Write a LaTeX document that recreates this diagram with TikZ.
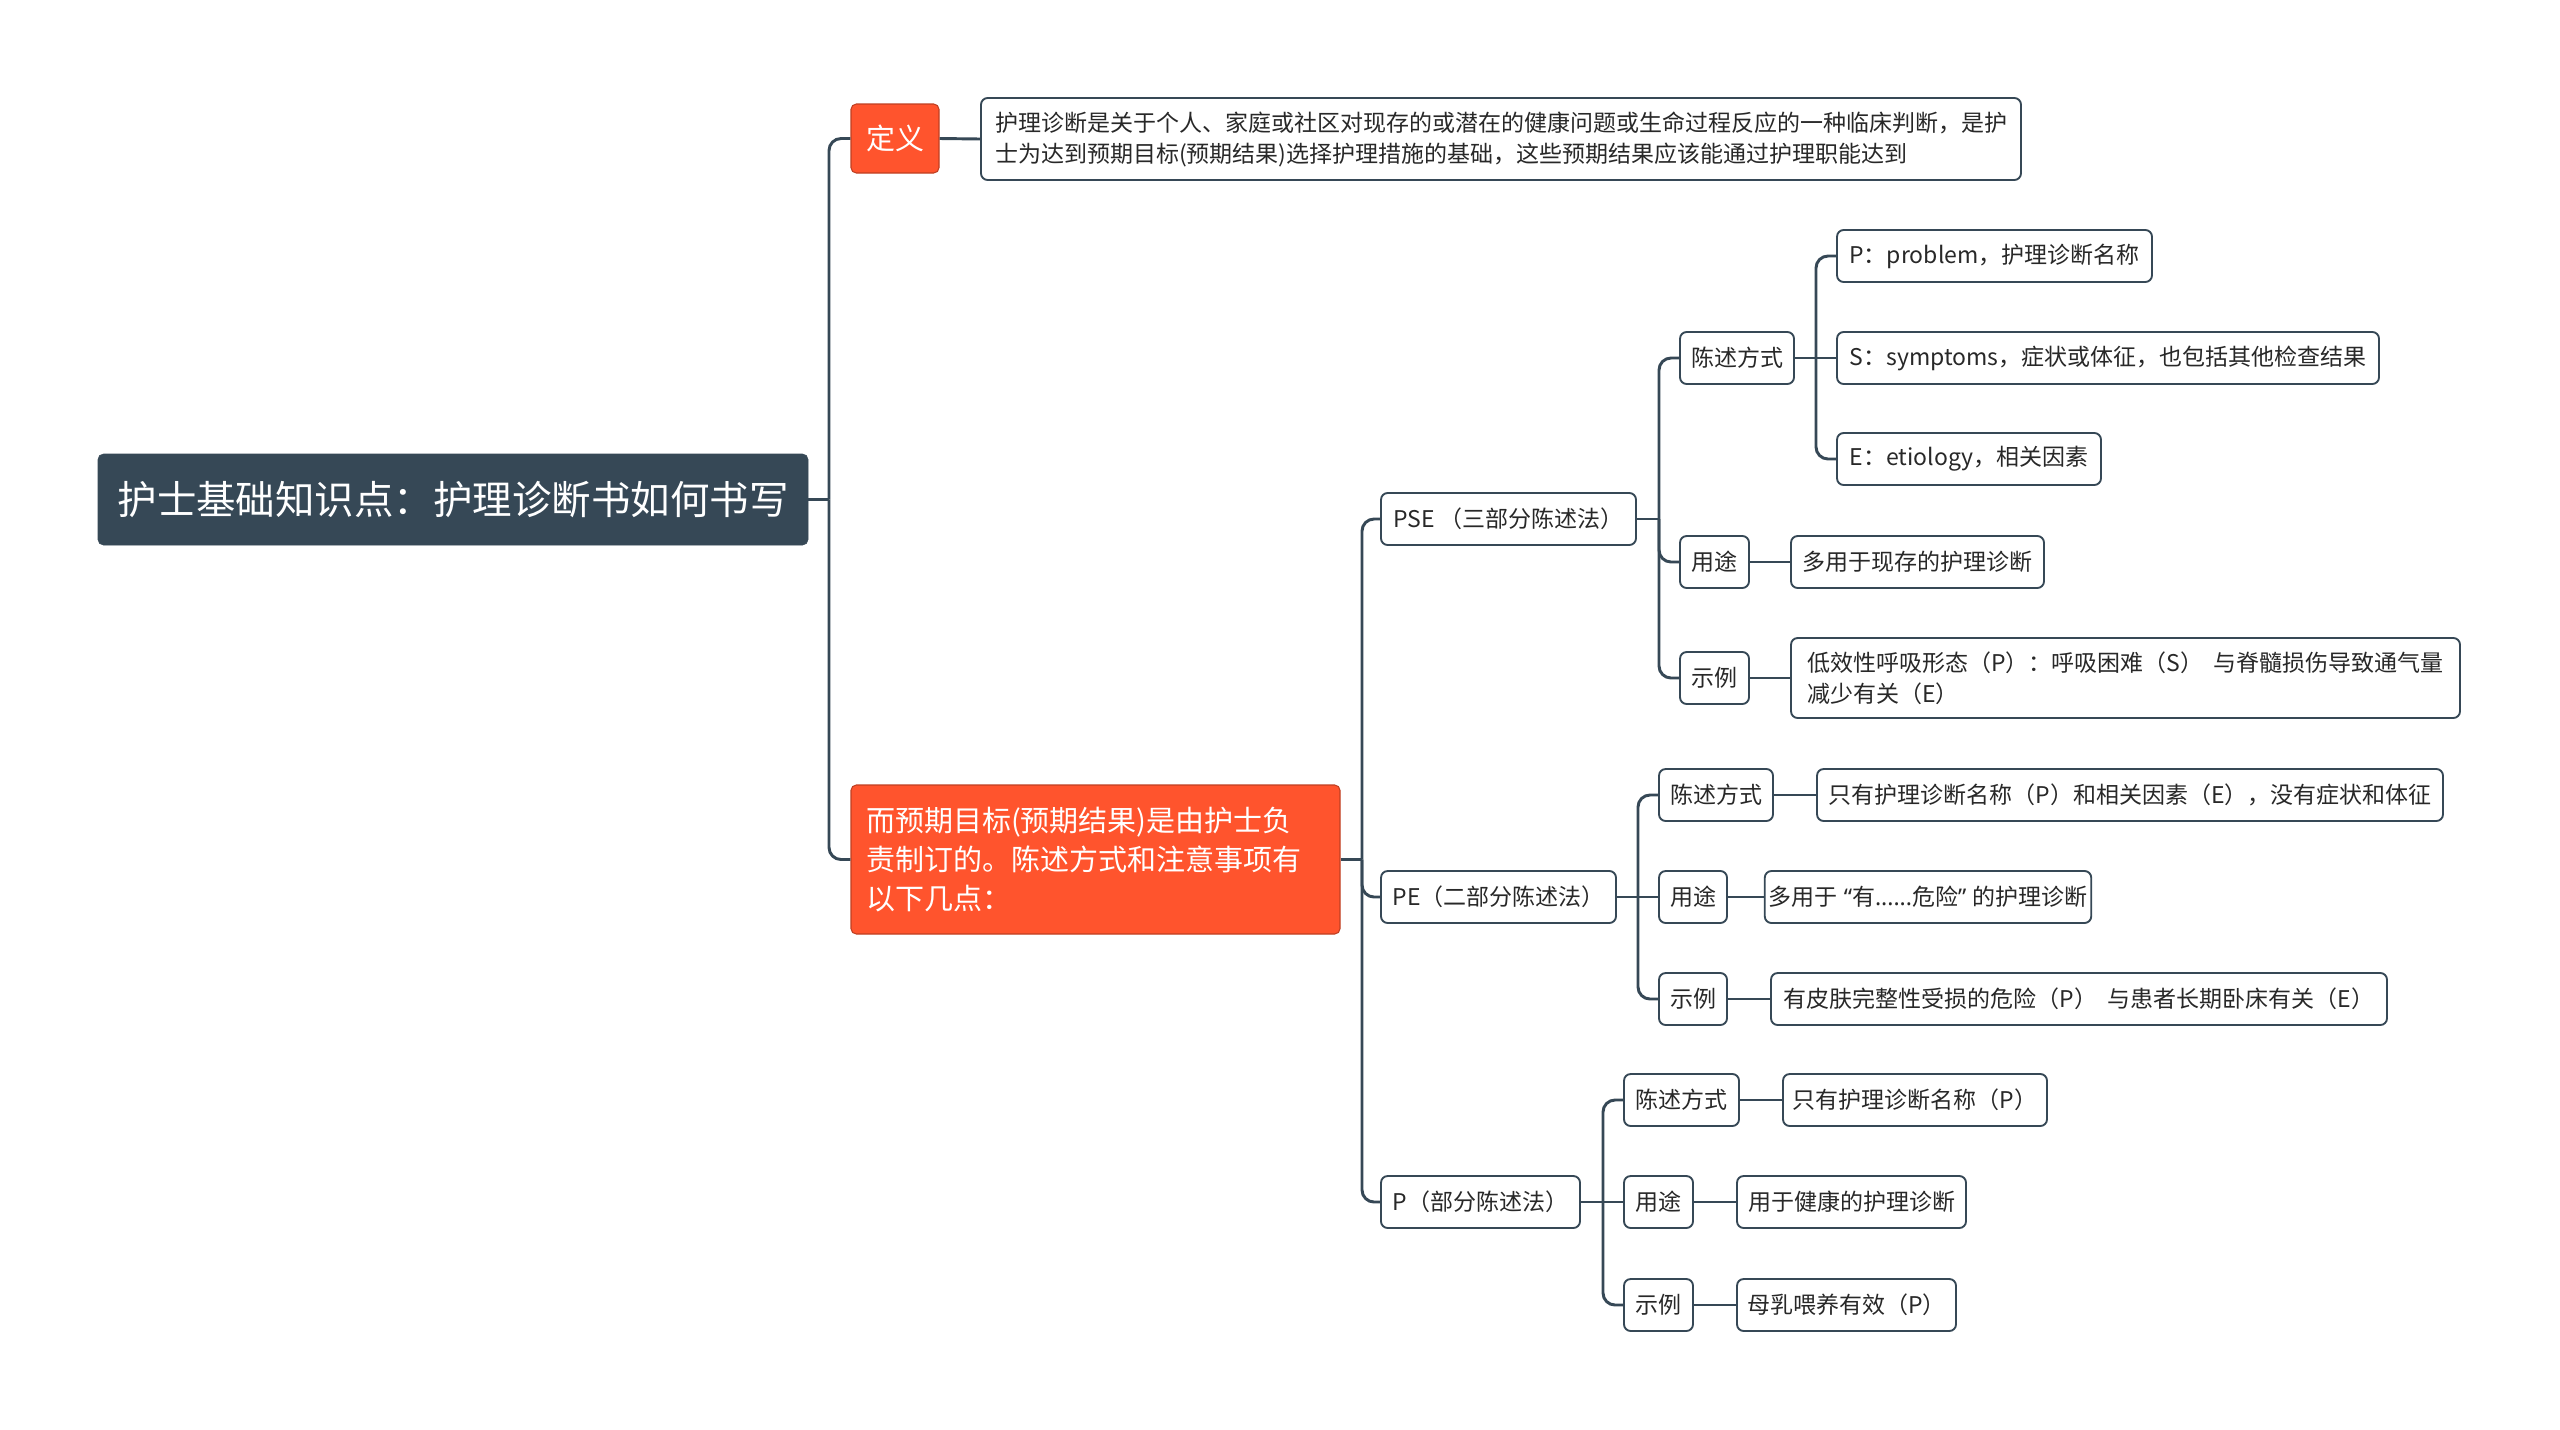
\documentclass[tikz,border=0pt]{standalone}
\usepackage{fontspec}
\setmainfont{Noto Sans CJK SC}
\newfontfamily\latinq{Noto Sans}
\definecolor{linec}{RGB}{54,72,86}
\definecolor{rootc}{RGB}{54,72,86}
\definecolor{orangec}{RGB}{255,84,45}
\definecolor{textc}{RGB}{40,40,40}
\begin{document}
\begin{tikzpicture}[x=0.75pt,y=-0.75pt,
  wh/.style 2 args={minimum width=#1*0.75pt,minimum height=#2*0.75pt},
  rootbox/.style={fill=rootc,draw=rootc,rounded corners=4pt,text=white,inner sep=3pt,
    font=\fontsize{29.6pt}{36pt}\selectfont},
  orangebox/.style={fill=orangec,draw=orangec!75!black,line width=0.8pt,rounded corners=4pt,text=white,inner sep=3pt},
  leaf/.style={fill=white,draw=linec,line width=1.4pt,rounded corners=5pt,text=textc,inner sep=3pt,
    font=\fontsize{17.25pt}{23.25pt}\selectfont},
  conn/.style={draw=linec,line width=2.2pt},
  rc/.style={conn,rounded corners=9pt}]
\useasboundingbox (0,0) rectangle (2560,1429);
\fill[white] (0,0) rectangle (2560,1429);

% nodes
\node[rootbox,wh={710}{91}] (root) at (453,499.5) {护士基础知识点：护理诊断书如何书写};
\node[orangebox,wh={88}{69},font=\fontsize{21.75pt}{26pt}\selectfont] (def) at (895,138.5) {定义};
\node[leaf,wh={1040}{82},align=left] (deftext) at (1501,139) {护理诊断是关于个人、家庭或社区对现存的或潜在的健康问题或生命过程反应的一种临床判断，是护\\士为达到预期目标(预期结果)选择护理措施的基础，这些预期结果应该能通过护理职能达到};
\node[orangebox,wh={489}{149},inner xsep=11pt,text width=344pt,align=left,font=\fontsize{21.75pt}{29.25pt}\selectfont] (goal) at (1095.5,859.5) {而预期目标(预期结果)是由护士负\\责制订的。陈述方式和注意事项有\\以下几点：};

\node[leaf,wh={255}{52}] (pse) at (1508.5,519) {PSE （三部分陈述法）};
\node[leaf,wh={235}{52}] (pe) at (1498.5,897) {PE（二部分陈述法）};
\node[leaf,wh={199}{52}] (p) at (1480.5,1202) {P（部分陈述法）};

% PSE
\node[leaf,wh={114}{52}] (ps1) at (1737,358) {陈述方式};
\node[leaf,wh={69}{52}] (ps2) at (1714.5,562) {用途};
\node[leaf,wh={69}{52}] (ps3) at (1714.5,678) {示例};
\node[leaf,wh={315}{52}] (pP) at (1994.5,256) {P：problem，护理诊断名称};
\node[leaf,wh={542}{52}] (pS) at (2108,358) {S：symptoms，症状或体征，也包括其他检查结果};
\node[leaf,wh={264}{52}] (pE) at (1969,459) {E：etiology，相关因素};
\node[leaf,wh={253}{52}] (ps2l) at (1917.5,562) {多用于现存的护理诊断};
\node[leaf,wh={669}{80},align=left] (ps3l) at (2125.5,678) {低效性呼吸形态（P）：呼吸困难（S）\ \ 与脊髓损伤导致通气量\\减少有关（E）};

% PE
\node[leaf,wh={114}{52}] (pe1) at (1716,795) {陈述方式};
\node[leaf,wh={68}{52}] (pe2) at (1693,897) {用途};
\node[leaf,wh={68}{52}] (pe3) at (1693,999) {示例};
\node[leaf,wh={626}{52}] (pe1l) at (2130,795) {只有护理诊断名称（P）和相关因素（E），没有症状和体征};
\node[leaf,wh={314}{52}] (pe2l) at (1928,897) {多用于{\latinq\ “}有{\latinq ......}危险{\latinq ”\ }的护理诊断};
\node[leaf,wh={616}{52}] (pe3l) at (2079,999) {有皮肤完整性受损的危险（P）\ \ 与患者长期卧床有关（E）};

% P
\node[leaf,wh={115}{52}] (p1) at (1681.5,1100) {陈述方式};
\node[leaf,wh={69}{52}] (p2) at (1658.5,1202) {用途};
\node[leaf,wh={69}{52}] (p3) at (1658.5,1305) {示例};
\node[leaf,wh={264}{52}] (p1l) at (1915,1100) {只有护理诊断名称（P）};
\node[leaf,wh={229}{52}] (p2l) at (1851.5,1202) {用于健康的护理诊断};
\node[leaf,wh={219}{52}] (p3l) at (1846.5,1305) {母乳喂养有效（P）};

% trunk coordinates
\coordinate (t0) at (829,0);
\coordinate (t1) at (1362,0);
\coordinate (t2) at (1659,0);
\coordinate (t3) at (1816,0);
\coordinate (t4) at (1638,0);
\coordinate (t5) at (1603,0);

% connectors
\draw[conn] (root.east) -- (root.east -| t0);
\draw[rc] (root.east -| t0) |- (def.west);
\draw[rc] (root.east -| t0) |- (goal.west);
\draw[conn] (def.east) -- (deftext.west);

\draw[conn] (goal.east) -- (goal.east -| t1);
\draw[rc] (goal.east -| t1) |- (pse.west);
\draw[rc] (goal.east -| t1) |- (pe.west);
\draw[rc] (goal.east -| t1) |- (p.west);

\draw[conn] (pse.east) -- (pse.east -| t2);
\draw[rc] (pse.east -| t2) |- (ps1.west);
\draw[rc] (pse.east -| t2) |- (ps2.west);
\draw[rc] (pse.east -| t2) |- (ps3.west);

\draw[conn] (ps1.east) -- (ps1.east -| t3);
\draw[rc] (ps1.east -| t3) |- (pP.west);
\draw[conn] (ps1.east -| t3) -- (pS.west);
\draw[rc] (ps1.east -| t3) |- (pE.west);
\draw[conn] (ps2.east) -- (ps2l.west);
\draw[conn] (ps3.east) -- (ps3l.west);

\draw[conn] (pe.east) -- (pe.east -| t4);
\draw[rc] (pe.east -| t4) |- (pe1.west);
\draw[conn] (pe.east -| t4) -- (pe2.west);
\draw[rc] (pe.east -| t4) |- (pe3.west);
\draw[conn] (pe1.east) -- (pe1l.west);
\draw[conn] (pe2.east) -- (pe2l.west);
\draw[conn] (pe3.east) -- (pe3l.west);

\draw[conn] (p.east) -- (p.east -| t5);
\draw[rc] (p.east -| t5) |- (p1.west);
\draw[conn] (p.east -| t5) -- (p2.west);
\draw[rc] (p.east -| t5) |- (p3.west);
\draw[conn] (p1.east) -- (p1l.west);
\draw[conn] (p2.east) -- (p2l.west);
\draw[conn] (p3.east) -- (p3l.west);
\end{tikzpicture}
\end{document}
